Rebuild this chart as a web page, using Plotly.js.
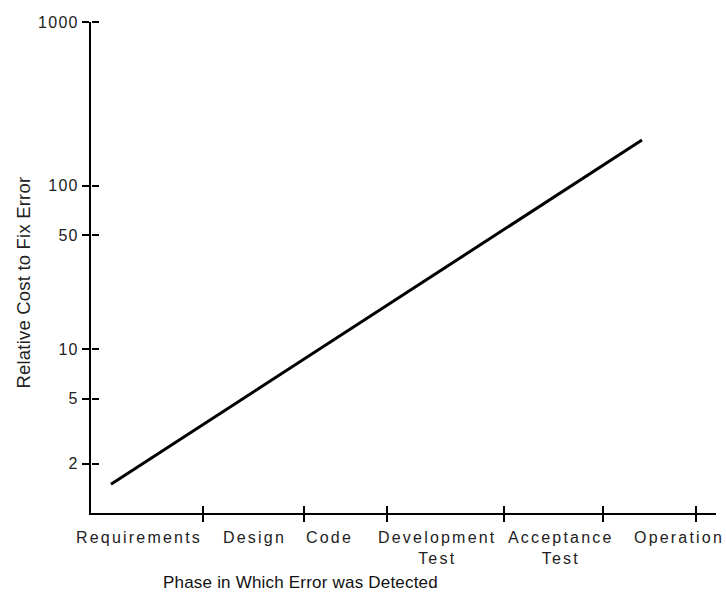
<!DOCTYPE html>
<html>
<head>
<meta charset="utf-8">
<script src="https://cdn.plot.ly/plotly-3.0.1.min.js"></script>
<style>
  html, body { margin: 0; padding: 0; background: #fff; }
  #chart { width: 726px; height: 598px; }
  .ytick text { letter-spacing: 1.3px; }
  .annotation-text { letter-spacing: 0.2px; }
  .annotation:not([data-index="0"]):not([data-index="1"]) .annotation-text { letter-spacing: 2.2px; }
</style>
</head>
<body>
<div id="chart"></div>
<script>
// ---- data ----
const phases = ['Requirements', 'Design', 'Code', 'Development<br>Test', 'Acceptance<br>Test', 'Operation'];
const lineX = [0, 5];            // phase index where the cost line starts / ends
const lineCost = [1.5, 190];     // relative cost to fix error
const costTicks = [2, 5, 10, 50, 100, 1000];
const costTickText = ['2', '5', '10', '50', '100', '1000'];

// ---- layout positions (phase-index units) ----
const labelPos = [0.264, 1.347, 2.062, 3.079, 4.237, 5.348];
const tickPos = [0.866, 1.817, 2.599, 3.701, 4.633, 5.508];
const xRange = [-0.188, 5.697];
const yRange = [0, 3];

const font = 'Liberation Sans, Arial, Helvetica, sans-serif';

// invisible helper trace so that the tick-only overlay axes are created
function helper(xa, ya) {
  return { x: lineX, y: lineCost, xaxis: xa, yaxis: ya, mode: 'lines',
           line: { color: 'rgba(0,0,0,0)', width: 0 }, opacity: 0,
           hoverinfo: 'skip', showlegend: false };
}

const traces = [
  { x: lineX, y: lineCost, xaxis: 'x', yaxis: 'y', mode: 'lines',
    line: { color: '#000', width: 3 }, hoverinfo: 'skip', showlegend: false },
  helper('x2', 'y2')
];

const layout = {
  width: 726, height: 598,
  margin: { l: 91, r: 10, t: 22, b: 85 },
  paper_bgcolor: '#fff', plot_bgcolor: '#fff',
  showlegend: false,
  font: { family: font, color: '#222' },
  xaxis: {
    range: xRange, showgrid: false, zeroline: false,
    showline: true, linecolor: '#000', linewidth: 2,
    tickmode: 'array', tickvals: tickPos,
    ticks: 'outside', ticklen: 7, tickwidth: 2, tickcolor: '#000',
    showticklabels: false
  },
  // upper half of the crossing ticks
  xaxis2: {
    overlaying: 'x', anchor: 'free', position: 0, side: 'top', range: xRange,
    showgrid: false, zeroline: false, showline: false, showticklabels: false,
    tickmode: 'array', tickvals: tickPos, ticks: 'outside', ticklen: 7, tickwidth: 2, tickcolor: '#000'
  },
  yaxis: {
    type: 'log', range: yRange, showgrid: false, zeroline: false,
    showline: true, linecolor: '#000', linewidth: 2,
    tickmode: 'array', tickvals: costTicks, ticktext: costTickText,
    ticks: 'outside', ticklen: 7, tickwidth: 2, tickcolor: '#000',
    tickfont: { family: font, size: 16, color: '#222' }
  },
  // right half of the crossing ticks
  yaxis2: {
    overlaying: 'y', anchor: 'free', position: 0, side: 'right', type: 'log', range: yRange,
    showgrid: false, zeroline: false, showline: false, showticklabels: false,
    tickmode: 'array', tickvals: costTicks,
    ticks: 'outside', ticklen: 7, tickwidth: 2, tickcolor: '#000'
  },
  annotations: [
    { text: 'Relative Cost to Fix Error', xref: 'paper', yref: 'paper',
      x: (22.5 - 91) / 625, y: (513 - 283) / 491, textangle: -90,
      xanchor: 'center', yanchor: 'middle', showarrow: false,
      font: { family: font, size: 18.5, color: '#222' } },
    { text: 'Phase in Which Error was Detected', xref: 'paper', yref: 'paper',
      x: (300 - 91) / 625, y: (513 - 582) / 491,
      xanchor: 'center', yanchor: 'middle', showarrow: false,
      font: { family: font, size: 17, color: '#111' } }
  ].concat(phases.map((p, i) => ({
    text: p, xref: 'x', yref: 'paper', x: labelPos[i], y: 0, yshift: -14,
    xanchor: 'center', yanchor: 'top', showarrow: false, align: 'center',
    font: { family: font, size: 16, color: '#222' }
  })))
};

Plotly.newPlot('chart', traces, layout, { staticPlot: true, displayModeBar: false });
</script>
</body>
</html>
